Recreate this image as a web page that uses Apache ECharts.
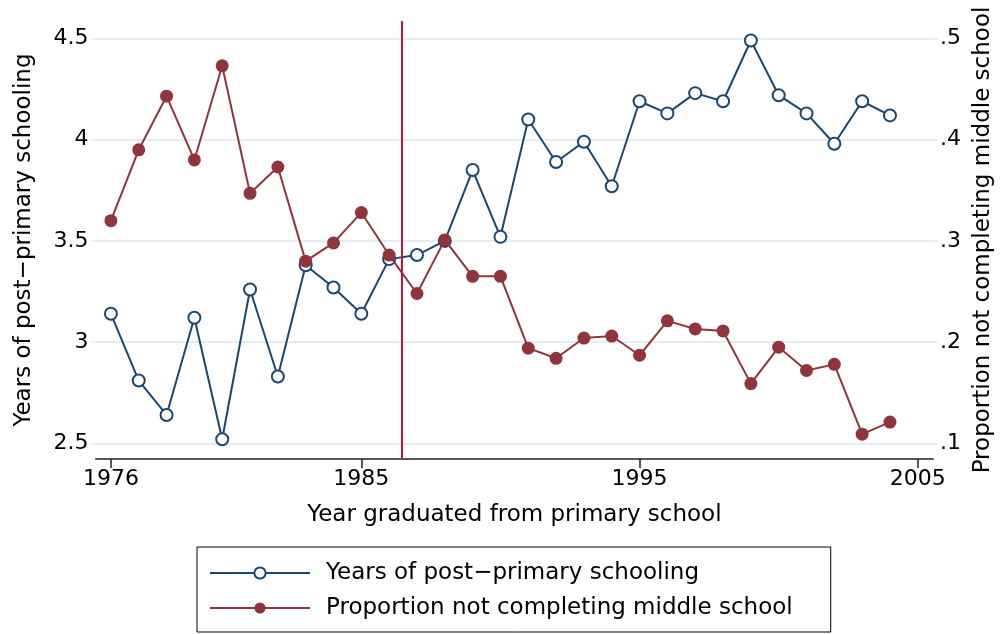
<!DOCTYPE html>
<html>
<head>
<meta charset="utf-8">
<script src="https://cdn.jsdelivr.net/npm/echarts@6/dist/echarts.min.js"></script>
<style>
  html, body { margin: 0; padding: 0; background: #fff; }
  #chart { width: 1003px; height: 634px; }
</style>
</head>
<body>
<div id="chart"></div>
<script>
// Cohorts by year of primary-school graduation
const years = [1976, 1977, 1978, 1979, 1980, 1981, 1982, 1983, 1984, 1985,
               1986, 1987, 1988, 1989, 1990, 1991, 1992, 1993, 1994, 1995,
               1996, 1997, 1998, 1999, 2000, 2001, 2002, 2003, 2004];

// Mean years of post-primary schooling (left axis)
const schooling = [3.14, 2.81, 2.64, 3.12, 2.52, 3.26, 2.83, 3.38, 3.27, 3.14,
                   3.41, 3.43, 3.50, 3.85, 3.52, 4.10, 3.89, 3.99, 3.77, 4.19,
                   4.13, 4.23, 4.19, 4.49, 4.22, 4.13, 3.98, 4.19, 4.12];

// Share not completing middle school (right axis)
const notCompleting = [0.320, 0.390, 0.443, 0.380, 0.473, 0.347, 0.373, 0.280, 0.298, 0.328,
                       0.286, 0.248, 0.301, 0.265, 0.265, 0.194, 0.184, 0.204, 0.206, 0.187,
                       0.221, 0.213, 0.211, 0.159, 0.195, 0.172, 0.178, 0.109, 0.121];

// Tick labels
const xTicks = [1976, 1985, 1995, 2005];
const leftTicks = [2.5, 3, 3.5, 4, 4.5];
const rightTicks = [0.1, 0.2, 0.3, 0.4, 0.5];

// Policy cutoff marked by the vertical line
const cutoffYear = 1986.45;

const FONT = 'DejaVu Sans';
const BLUE = '#1a476f';
const RED = '#90353b';
const GRID = '#e4edf1';

const chart = echarts.init(document.getElementById('chart'), null, { renderer: 'canvas' });

chart.setOption({
  animation: false,
  backgroundColor: '#fff',
  textStyle: { fontFamily: FONT, color: '#000' },
  grid: { left: 95.6, right: 64.7, top: 21, bottom: 175, containLabel: false },
  xAxis: {
    type: 'value',
    min: 1975.45,
    max: 2005.55,
    name: 'Year graduated from primary school',
    nameLocation: 'middle',
    nameGap: 45,
    nameTextStyle: { fontFamily: FONT, fontSize: 23, color: '#000' },
    axisLine: { show: true, lineStyle: { color: '#222', width: 1.5 } },
    axisTick: { show: true, length: 9, lineStyle: { color: '#222', width: 1.5 }, customValues: xTicks },
    axisLabel: {
      customValues: xTicks, fontFamily: FONT, fontSize: 22, color: '#000', margin: 9,
      formatter: v => String(Math.round(v))
    },
    splitLine: { show: false }
  },
  yAxis: [
    {
      type: 'value',
      position: 'left',
      min: 2.4224,
      max: 4.5865,
      name: 'Years of post\u2212primary schooling',
      nameLocation: 'middle',
      nameRotate: 90,
      nameGap: 60,
      nameTextStyle: { fontFamily: FONT, fontSize: 23, color: '#000' },
      axisLine: { show: false },
      axisTick: { show: true, length: 5, lineStyle: { color: GRID, width: 1.5 }, customValues: leftTicks },
      axisLabel: {
        customValues: leftTicks, fontFamily: FONT, fontSize: 22, color: '#000', margin: 7,
        formatter: v => String(+v.toFixed(2))
      },
      splitLine: { show: true, lineStyle: { color: GRID, width: 2 } }
    },
    {
      type: 'value',
      position: 'right',
      min: 0.08449,
      max: 0.51729,
      name: 'Proportion not completing middle school',
      nameLocation: 'middle',
      nameRotate: 90,
      nameGap: 37,
      nameTextStyle: { fontFamily: FONT, fontSize: 23, color: '#000' },
      axisLine: { show: false },
      axisTick: { show: true, length: 5, lineStyle: { color: GRID, width: 1.5 }, customValues: rightTicks },
      axisLabel: {
        customValues: rightTicks, fontFamily: FONT, fontSize: 22, color: '#000', margin: 7,
        formatter: v => String(+v.toFixed(2)).replace(/^0\./, '.')
      },
      splitLine: { show: false }
    }
  ],
  legend: {
    orient: 'vertical',
    left: 197,
    top: 547,
    padding: [14, 38, 12, 12],
    borderColor: '#000',
    borderWidth: 1,
    borderRadius: 0,
    itemWidth: 100,
    itemHeight: 14,
    itemGap: 11,
    textStyle: { fontFamily: FONT, fontSize: 23, color: '#000', lineHeight: 24, padding: [0, 0, 0, 11] },
    data: ['Years of post\u2212primary schooling', 'Proportion not completing middle school']
  },
  series: [
    {
      name: 'Years of post\u2212primary schooling',
      type: 'line',
      yAxisIndex: 0,
      data: years.map((y, i) => [y, schooling[i]]),
      symbol: 'circle',
      symbolSize: 12,
      lineStyle: { color: BLUE, width: 2 },
      itemStyle: { color: '#fff', borderColor: BLUE, borderWidth: 2 },
      emphasis: { disabled: true },
      z: 3,
      markLine: {
        silent: true,
        symbol: 'none',
        label: { show: false },
        lineStyle: { color: '#cc1038', width: 2, type: 'solid' },
        data: [{ xAxis: cutoffYear }]
      }
    },
    {
      name: 'Proportion not completing middle school',
      type: 'line',
      yAxisIndex: 1,
      data: years.map((y, i) => [y, notCompleting[i]]),
      symbol: 'circle',
      symbolSize: 13,
      lineStyle: { color: RED, width: 2 },
      itemStyle: { color: RED, borderColor: RED, borderWidth: 0 },
      emphasis: { disabled: true },
      z: 4
    }
  ]
});
</script>
</body>
</html>
